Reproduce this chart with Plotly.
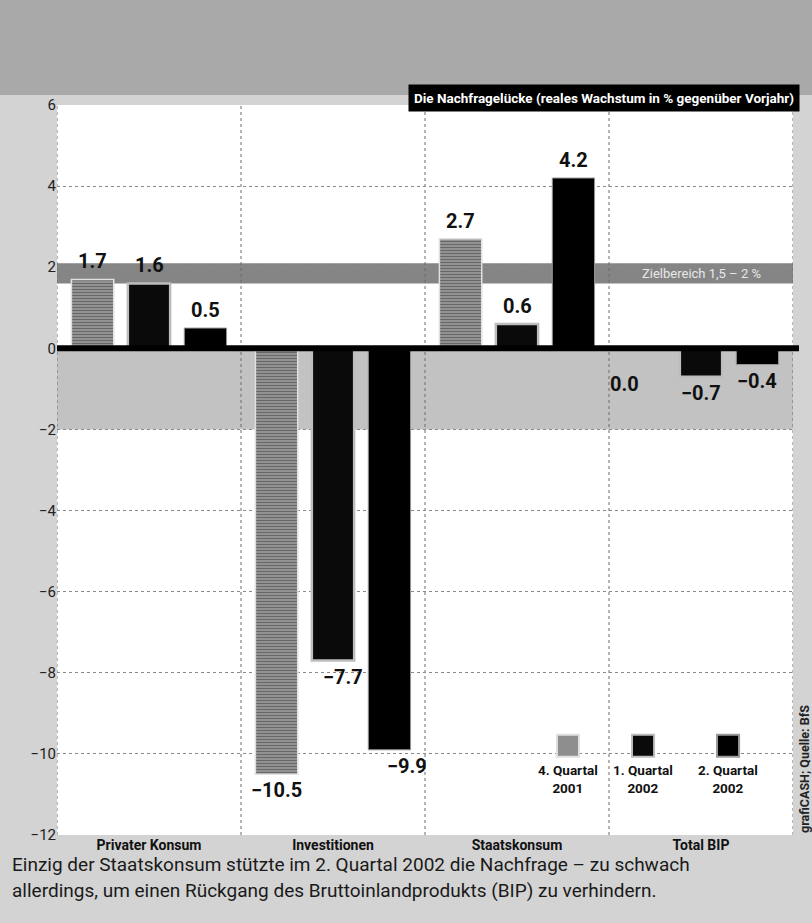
import plotly.graph_objects as go

categories = ["Privater Konsum", "Investitionen", "Staatskonsum", "Total BIP"]
series_names = ["4. Quartal 2001", "1. Quartal 2002", "2. Quartal 2002"]
q4_2001 = [1.7, -10.5, 2.7, 0.0]
q1_2002 = [1.6, -7.7, 0.6, -0.7]
q2_2002 = [0.5, -9.9, 4.2, -0.4]
series_values = [q4_2001, q1_2002, q2_2002]
y_ticks = [-12, -10, -8, -6, -4, -2, 0, 2, 4, 6]
target_band = [1.6, 2.1]
gap_band = [0.0, -2.0]
title_text = "Die Nachfragelücke (reales Wachstum in % gegenüber Vorjahr)"
band_text = "Zielbereich 1,5 – 2 %"
caption_lines = [
    "Einzig der Staatskonsum stützte im 2. Quartal 2002 die Nachfrage – zu schwach",
    "allerdings, um einen Rückgang des Bruttoinlandprodukts (BIP) zu verhindern.",
]
source_text = "grafiCASH; Quelle: BfS"

FONT = "Roboto, Liberation Sans, Arial, sans-serif"
W, H = 812, 923
ML, MR, MT, MB = 57, 19, 105, 88
PW, PH = W - ML - MR, H - MT - MB

styles = [
    dict(color="#8e8e8e", line=dict(color="#e0e0e0", width=1.5),
         pattern=dict(shape="-", fgcolor="#333333", bgcolor="#9a9a9a", size=3, solidity=0.45)),
    dict(color="#0a0a0a", line=dict(color="#bdbdbd", width=2.5)),
    dict(color="#000000", line=dict(color="#9a9a9a", width=1)),
]

fig = go.Figure()
for name, vals, st in zip(series_names, series_values, styles):
    fig.add_trace(go.Bar(x=categories, y=vals, name=name, marker=st, showlegend=False))

shapes = []
shapes.append(dict(type="rect", xref="paper", yref="paper", x0=-ML / PW, x1=1 + MR / PW,
                   y0=1 + (MT - 95) / PH, y1=1 + MT / PH, fillcolor="#a9a9a9",
                   line=dict(width=0), layer="below"))
shapes.append(dict(type="rect", xref="paper", yref="y", x0=0, x1=1, y0=gap_band[1], y1=gap_band[0],
                   fillcolor="#c2c2c2", line=dict(width=0), layer="below"))
shapes.append(dict(type="rect", xref="paper", yref="y", x0=0, x1=1, y0=target_band[0], y1=target_band[1],
                   fillcolor="#858585", line=dict(width=0), layer="below"))
for b in [-0.5, 0.5, 1.5, 2.5, 3.5]:
    shapes.append(dict(type="line", xref="x", yref="paper", x0=b, x1=b, y0=0, y1=1,
                       line=dict(color="#6a6a6a", width=1, dash="dot"), layer="below"))
shapes.append(dict(type="line", xref="paper", yref="y", x0=0, x1=1 + 6 / PW, y0=0, y1=0,
                   line=dict(color="#000", width=6), layer="above"))

annotations = []
slot = 0.306
xshift_map = {(1, 1): 10, (1, 2): 18, (3, 0): -20}
for j, vals in enumerate(series_values):
    for i, v in enumerate(vals):
        pos = v > 0
        annotations.append(dict(
            x=i + (j - 1) * slot, y=v, xref="x", yref="y",
            text="<b>%s</b>" % (("%.1f" % v).replace("-", "−")),
            showarrow=False, yanchor="bottom" if pos else "top",
            yshift=4 if pos else (-22 if v == 0 else -2),
            xshift=xshift_map.get((i, j), 0),
            font=dict(family=FONT, size=20, color="#111")))

annotations.append(dict(xref="paper", yref="paper", x=1 + 7 / PW, y=1 + 7 / PH, xanchor="right", yanchor="middle",
                        text="<b>%s</b>" % title_text, showarrow=False, bgcolor="#000", borderpad=5,
                        font=dict(family=FONT, size=13.5, color="#fff")))
annotations.append(dict(xref="x", yref="y", x=3.0, y=sum(target_band) / 2, text=band_text,
                        showarrow=False, font=dict(family=FONT, size=13, color="#e8e8e8")))

leg_x = [2.277, 2.685, 3.147]
for name, st, lx in zip(series_names, styles, leg_x):
    shapes.append(dict(type="rect", xref="x", yref="y", x0=lx - 0.06, x1=lx + 0.06, y0=-10.07, y1=-9.53,
                       fillcolor=st["color"], line=dict(color=st["line"]["color"], width=2), layer="above"))
    q, yr = name.rsplit(" ", 1)
    annotations.append(dict(xref="x", yref="y", x=lx, y=-10.15, yanchor="top", showarrow=False,
                            text="<b>%s<br>%s</b>" % (q, yr),
                            font=dict(family=FONT, size=13.5, color="#111")))

for k, line in enumerate(caption_lines):
    annotations.append(dict(xref="paper", yref="paper", x=(10 - ML) / PW, xanchor="left",
                            y=-(864 + 26 * k - (MT + PH)) / PH, yanchor="middle", showarrow=False,
                            text=line, font=dict(family=FONT, size=19, color="#1a1a1a")))
annotations.append(dict(xref="paper", yref="paper", x=1 + 11 / PW, y=0, yanchor="bottom",
                        xanchor="center", textangle=-90, showarrow=False, text="<b>%s</b>" % source_text,
                        font=dict(family=FONT, size=12.5, color="#222")))

fig.update_layout(
    width=W, height=H, margin=dict(l=ML, r=MR, t=MT, b=MB),
    paper_bgcolor="#d3d3d3", plot_bgcolor="#ffffff",
    barmode="group", bargap=0.08, bargroupgap=0.25,
    shapes=shapes, annotations=annotations,
    font=dict(family=FONT, color="#222"),
    xaxis=dict(range=[-0.5, 3.5], showgrid=False, zeroline=False, showline=False, ticks="",
               ticklabelstandoff=0,
               tickfont=dict(family=FONT, size=14, color="#111", weight="bold")),
    yaxis=dict(range=[-12, 6], tickvals=y_ticks, showgrid=True, gridcolor="#8a8a8a", griddash="dot",
               gridwidth=1, zeroline=False, showline=False, ticks="",
               tickfont=dict(family=FONT, size=15, color="#222")),
)

fig.write_html("out.html", config={"displayModeBar": False},
               post_script="document.body.style.margin='0';")
